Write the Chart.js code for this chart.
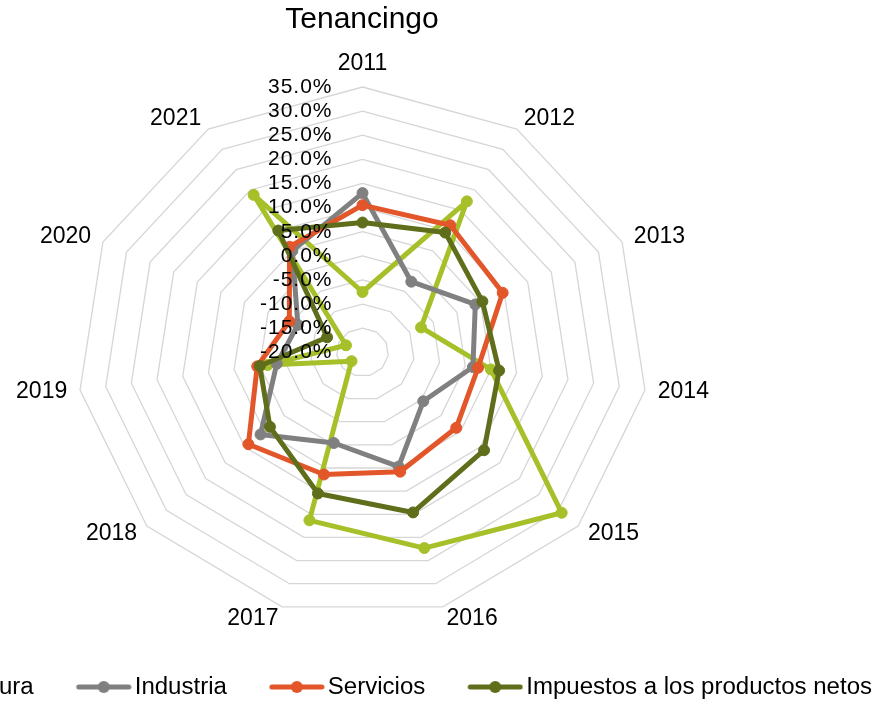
<!DOCTYPE html>
<html>
<head>
<meta charset="utf-8">
<script src="https://cdn.jsdelivr.net/npm/chart.js@4/dist/chart.umd.min.js"></script>
<style>
  html, body { margin: 0; padding: 0; background: #ffffff; overflow: hidden; width: 878px; height: 701px; }
  #wrap { position: absolute; left: -200px; top: 0; width: 1300px; height: 701px; }
</style>
</head>
<body>
<div id="wrap"><canvas id="chart"></canvas></div>
<script>
// ---------------- data ----------------
const chartTitle = 'Tenancingo';
const years = ['2011', '2012', '2013', '2014', '2015', '2016', '2017', '2018', '2019', '2020', '2021'];
const seriesNames = ['Agricultura', 'Industria', 'Servicios', 'Impuestos a los productos netos'];
const agricultura = [-7.5, 17.2, -7.6, 5.0, 30.8, 22.3, 16.3, -17.2, -1.5, -16.5, 18.8];
const industria   = [13.0, -2.6, 3.9, 1.5, -4.5, 4.7, -0.4, 6.0, -3.3, -6.3, 5.0];
const servicios   = [10.5, 11.3, 9.7, 2.5, 3.9, 5.8, 6.4, 9.1, 0.5, -4.5, 6.0];
const impuestos   = [6.9, 9.5, 5.4, 6.6, 11.0, 14.6, 10.5, 3.6, 0.0, -12.5, 10.0];
const tickMin = -20, tickMax = 35, tickStep = 5;

// ---------------- styles / layout ----------------
const colors = ['#A6C02A', '#808080', '#E2562A', '#5E6E1A'];
const FONT = '"Liberation Sans", Arial, Helvetica, sans-serif';
const PAGE_SHIFT = 200;                 // canvas x = page x + PAGE_SHIFT
const RADAR = { cx: 362.5 + PAGE_SHIFT, cy: 352.3, r: 265.3, sx: 1.0757 };
const LABEL_GAP = 12;
const TICK_X_OFFSET = 30;
const TICK_LETTER_SPACING = 1;
const LEGEND_TEXT_END = 872 + PAGE_SHIFT;
const LEGEND_LONG_TEXT_WIDTH = 346;
const LEG_LINE = 56, LEG_GAP_TEXT = 3, LEG_ITEM_GAP = 42;

// ---------------- elliptical radial scale ----------------
class EllipseRadialScale extends Chart.RadialLinearScale {
  static id = 'ellipseRadial';
  static defaults = {};
  setCenterPoint() {
    this.xCenter = RADAR.cx;
    this.yCenter = RADAR.cy;
    this.drawingArea = RADAR.r;
  }
  getPointPosition(index, distanceFromCenter, additionalAngle = 0) {
    const angle = this.getIndexAngle(index) - Math.PI / 2 + additionalAngle;
    return {
      x: this.xCenter + Math.cos(angle) * distanceFromCenter * RADAR.sx,
      y: this.yCenter + Math.sin(angle) * distanceFromCenter,
      angle
    };
  }
  fit() {
    super.fit();
    const pl = this.options.pointLabels;
    const size = (pl.font && pl.font.size) || 23;
    const lh = size * 1.2;
    (this._pointLabelItems || []).forEach((item, i) => {
      const p = this.getPointPosition(i, this.drawingArea + LABEL_GAP);
      const deg = ((Math.round(this.getIndexAngle(i) * 180 / Math.PI) % 360) + 360) % 360;
      let align = 'center', cy = p.y;
      if (deg === 0) cy = p.y - lh / 2 + 2;
      else if (deg === 180) cy = p.y + lh / 2;
      else align = deg < 180 ? 'left' : 'right';
      item.x = p.x;
      item.y = cy - lh / 2;
      item.textAlign = align;
    });
  }
  drawLabels() {
    const opts = this.options.ticks;
    if (!opts.display) return;
    const ctx = this.ctx;
    const f = opts.font || {};
    ctx.save();
    ctx.font = (f.size || 18) + 'px ' + (f.family || FONT);
    ctx.fillStyle = opts.color || '#000';
    ctx.textAlign = 'right';
    ctx.textBaseline = 'middle';
    ctx.letterSpacing = TICK_LETTER_SPACING + 'px';
    this.ticks.forEach(t => {
      ctx.fillText(t.label, this.xCenter - TICK_X_OFFSET, this.yCenter - this.getDistanceFromCenterForValue(t.value));
    });
    ctx.restore();
  }
}
Chart.register(EllipseRadialScale);

// ---------------- legend font / markers ----------------
function measure(font, text) {
  const c = document.createElement('canvas').getContext('2d');
  c.font = font;
  return c.measureText(text).width;
}
const probeText = seriesNames[3];
const hasNarrow = Math.abs(measure('40px "Liberation Sans Narrow", monospace', probeText) - measure('40px monospace', probeText)) > 0.5;
const legendFamily = hasNarrow ? '"Liberation Sans Narrow", "Arial Narrow", sans-serif' : FONT;
const legendFontSize = 40 * LEGEND_LONG_TEXT_WIDTH / measure('40px ' + legendFamily, probeText);
const legendBoxW = LEG_LINE + LEG_GAP_TEXT + LEG_ITEM_GAP - legendFontSize / 2;
const markerW = Math.round(legendBoxW + legendFontSize - 2 * LEG_GAP_TEXT);

function makeMarker(color) {
  const c = document.createElement('canvas');
  c.width = markerW; c.height = 18;
  const g = c.getContext('2d');
  g.strokeStyle = color; g.lineWidth = 5; g.lineCap = 'round';
  g.beginPath(); g.moveTo(markerW - LEG_LINE + 3, 9); g.lineTo(markerW - 3, 9); g.stroke();
  g.fillStyle = color;
  g.beginPath(); g.arc(markerW - LEG_LINE / 2, 9, 6, 0, Math.PI * 2); g.fill();
  return c;
}
const markers = colors.map(makeMarker);

// ---------------- datasets ----------------
const seriesData = [agricultura, industria, servicios, impuestos];
const datasets = seriesNames.map((name, i) => ({
  label: name,
  data: seriesData[i],
  borderColor: colors[i],
  backgroundColor: colors[i],
  pointBackgroundColor: colors[i],
  pointBorderColor: colors[i],
  pointBorderWidth: 1,
  pointRadius: 5.5,
  pointHoverRadius: 5.5,
  borderWidth: 5,
  borderJoinStyle: 'round',
  fill: false,
  clip: false,
  order: seriesNames.length - i
}));

const legendShift = {
  id: 'legendShift',
  beforeInit(chart) {
    const lg = chart.legend;
    if (!lg) return;
    const proto = Object.getPrototypeOf(lg);
    lg.draw = function () {
      const lw = (this.lineWidths && this.lineWidths[0]) || 0;
      const natural = (this.left + this.right - lw) / 2;
      const shift = LEGEND_TEXT_END - lw - natural;
      this.ctx.save();
      this.ctx.translate(shift, 0);
      proto.draw.call(this);
      this.ctx.restore();
    };
  }
};

new Chart(document.getElementById('chart'), {
  type: 'radar',
  data: { labels: years, datasets },
  plugins: [legendShift],
  options: {
    responsive: true,
    maintainAspectRatio: false,
    animation: false,
    events: [],
    layout: { padding: { left: 0, right: 176, top: 0, bottom: 4 - legendFontSize / 2 } },
    elements: { line: { tension: 0 } },
    scales: {
      r: {
        type: 'ellipseRadial',
        min: tickMin,
        max: tickMax,
        beginAtZero: false,
        angleLines: { display: false },
        grid: { color: '#D6D6D6', lineWidth: 1.3, circular: false },
        border: { display: false },
        pointLabels: { color: '#000', padding: 0, font: { family: FONT, size: 23 } },
        ticks: {
          stepSize: tickStep,
          z: 1,
          color: '#000',
          showLabelBackdrop: false,
          font: { family: FONT, size: 21 },
          callback: v => v.toFixed(1) + '%'
        }
      }
    },
    plugins: {
      tooltip: { enabled: false },
      title: {
        display: true,
        text: chartTitle,
        color: '#000',
        font: { family: FONT, size: 30, weight: 'normal' },
        padding: { top: 2, bottom: 4 }
      },
      legend: {
        position: 'bottom',
        labels: {
          usePointStyle: true,
          pointStyleWidth: legendBoxW,
          padding: 0,
          color: '#000',
          font: { family: legendFamily, size: legendFontSize },
          generateLabels: chart => chart.data.datasets.map((ds, i) => ({
            text: ds.label,
            pointStyle: markers[i],
            fillStyle: ds.borderColor,
            strokeStyle: ds.borderColor,
            lineWidth: 0,
            hidden: false,
            fontColor: '#000',
            datasetIndex: i
          }))
        }
      }
    }
  }
});
</script>
</body>
</html>
